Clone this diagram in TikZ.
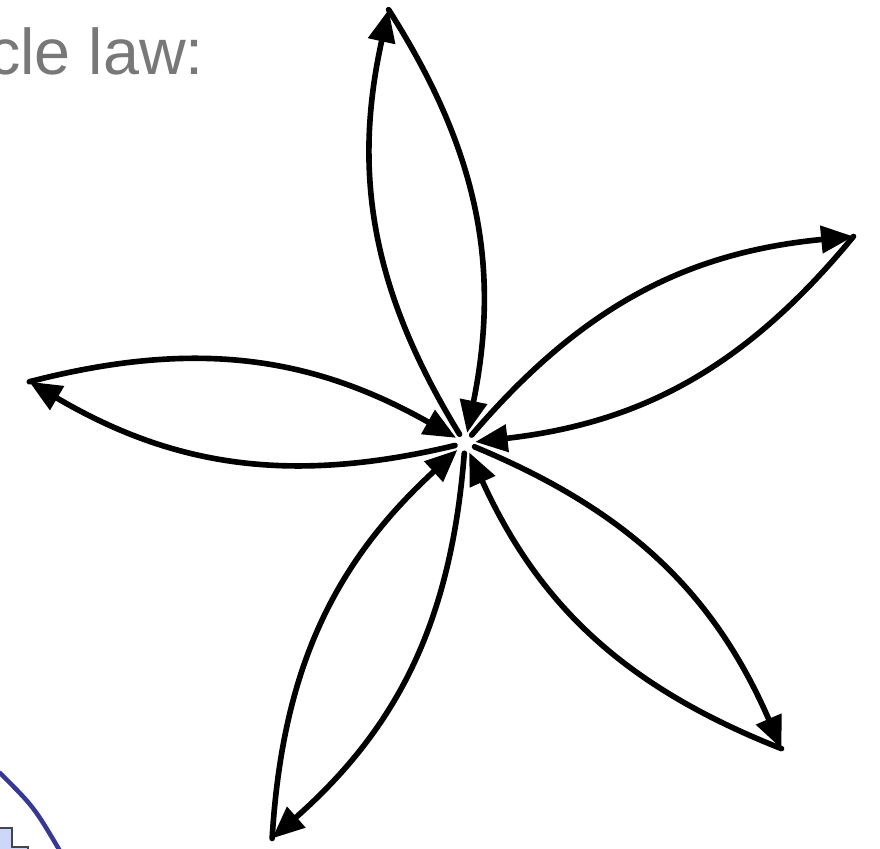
\documentclass[tikz,border=0pt]{standalone}
\usepackage{fontspec}
\setmainfont{Liberation Sans}
\usepackage{tikz}
\usetikzlibrary{arrows.meta}
\usepackage{xcolor}
\definecolor{arcblue}{RGB}{55,55,150}
\definecolor{boxfill}{RGB}{205,215,250}
\definecolor{boxedge}{RGB}{70,70,70}
\definecolor{captiongray}{RGB}{120,120,120}

\begin{document}
\begin{tikzpicture}[>={Triangle[length=23pt,width=19pt]},line cap=round,
  petal/.style={line width=4pt,bend left=22},
  hubnode/.style={circle,minimum size=0.5cm,inner sep=0pt}]
\useasboundingbox (0,0) rectangle (22,21.225);
\filldraw[fill=boxfill,draw=boxedge,line width=2.1pt] (-0.2,-0.3) -- (-0.2,0.525) -- (0.3,0.525) -- (0.3,0.05) -- (0.7,0.05) -- (0.7,-0.3) -- cycle;
\draw[arcblue,line width=3.2pt] (0,1.9) .. controls (0.85,1.05) .. (1.5,-0.05);
\node[anchor=base west,inner sep=0pt,text=captiongray,font=\fontsize{46}{55}\selectfont] (caption) at (-0.3,19.35) {cle law:};
\node[hubnode] (hub) at (11.625,10.15) {};
\path (hub) ++(100:11) coordinate (tipN);
\path (hub) ++(28:11) coordinate (tipE);
\path (hub) ++(-44:11) coordinate (tipSE);
\path (hub) ++(-116:11) coordinate (tipSW);
\path (hub) ++(172:11) coordinate (tipW);
\draw[petal,->] (hub) to (tipN);
\draw[petal,->] (tipN) to (hub);
\draw[petal,->] (hub) to (tipE);
\draw[petal,->] (tipE) to (hub);
\draw[petal,->] (hub) to (tipSE);
\draw[petal,->] (tipSE) to (hub);
\draw[petal,->] (hub) to (tipSW);
\draw[petal,->] (tipSW) to (hub);
\draw[petal,->] (hub) to (tipW);
\draw[petal,->] (tipW) to (hub);
\end{tikzpicture}
\end{document}
